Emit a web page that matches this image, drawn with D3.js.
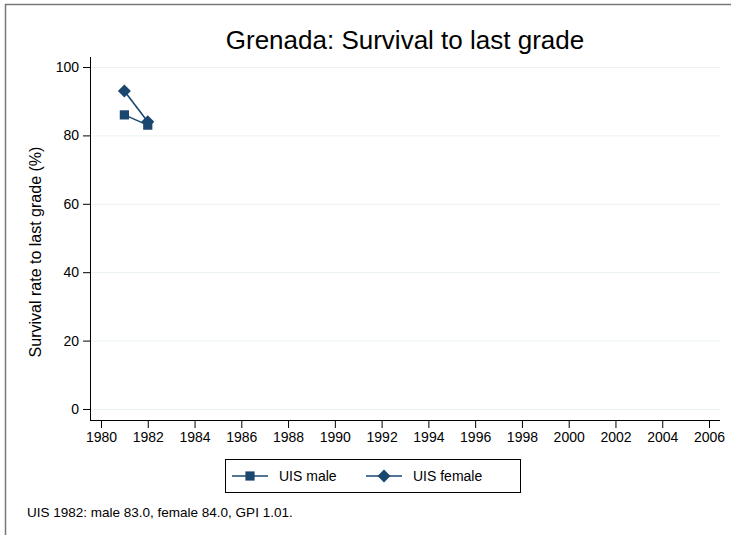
<!DOCTYPE html>
<html>
<head>
<meta charset="UTF-8">
<title>Grenada: Survival to last grade</title>
<script src="https://d3js.org/d3.v7.min.js"></script>
<style>
  html, body { margin: 0; padding: 0; background: #fff; overflow: hidden; }
  svg { display: block; }
  text { font-family: Arial, "Liberation Sans", sans-serif; fill: #000; }
</style>
</head>
<body>
<div id="chart"></div>
<script>
// data
var years = [1981, 1982];
var maleValues = [86, 83];
var femaleValues = [93, 84];
var xTicks = d3.range(1980, 2007, 2);
var yTicks = [0, 20, 40, 60, 80, 100];
var note = "UIS 1982: male 83.0, female 84.0, GPI 1.01.";

var W = 731, H = 535;
var navy = "#1a476f";
var fontFam = "Arial, 'Liberation Sans', sans-serif";

var svg = d3.select("#chart").append("svg")
    .attr("width", W).attr("height", H);

svg.append("rect").attr("width", W).attr("height", H).attr("fill", "#fff");

// outer frame (only top and left edges show in the picture)
svg.append("line").attr("x1", 5.5).attr("x2", 5.5).attr("y1", 4).attr("y2", H)
    .attr("stroke", "#777").attr("stroke-width", 1.5);
svg.append("line").attr("x1", 5).attr("x2", W).attr("y1", 4.5).attr("y2", 4.5)
    .attr("stroke", "#777").attr("stroke-width", 1.5);

var plot = {left: 90, right: 720, top: 57, bottom: 420};

var x = d3.scaleLinear().domain([1979.53, 2006.47]).range([plot.left, plot.right]);
var y = d3.scaleLinear().domain([0, 100]).range([409, 67]);

// grid lines
svg.append("g").selectAll("line").data(yTicks).join("line")
    .attr("x1", plot.left).attr("x2", plot.right)
    .attr("y1", d => y(d) + 0.5).attr("y2", d => y(d) + 0.5)
    .attr("stroke", "#eaf2f3").attr("stroke-width", 1);

// y axis
var yAxis = svg.append("g")
    .attr("transform", "translate(" + plot.left + ",0)")
    .call(d3.axisLeft(y).tickValues(yTicks).tickSize(7).tickPadding(4));
yAxis.select(".domain").attr("d", "M0.5," + plot.top + "V" + plot.bottom);
yAxis.selectAll("text").style("font-size", "14px").style("font-family", fontFam);

// x axis
var xAxis = svg.append("g")
    .attr("transform", "translate(0," + plot.bottom + ")")
    .call(d3.axisBottom(x).tickValues(xTicks).tickFormat(d3.format("d")).tickSize(8).tickPadding(4));
xAxis.select(".domain").attr("d", "M" + plot.left + ",0.5H" + plot.right);
xAxis.selectAll("text").style("font-size", "14px").style("font-family", fontFam);
svg.selectAll(".domain, .tick line").attr("stroke", "#000");

// series
var male = years.map((d, i) => ({year: d, v: maleValues[i]}));
var female = years.map((d, i) => ({year: d, v: femaleValues[i]}));
var line = d3.line().x(d => x(d.year)).y(d => y(d.v));

svg.append("path").datum(male).attr("d", line)
    .attr("fill", "none").attr("stroke", navy).attr("stroke-width", 1.6);
svg.append("path").datum(female).attr("d", line)
    .attr("fill", "none").attr("stroke", navy).attr("stroke-width", 1.6);

// square marker and a square diamond (rotated square)
var sq = d3.symbol().type(d3.symbolSquare).size(85)();
var dia = "M0,-6.5L6.5,0L0,6.5L-6.5,0Z";

svg.append("g").selectAll("path").data(male).join("path")
    .attr("d", sq)
    .attr("transform", d => "translate(" + x(d.year) + "," + y(d.v) + ")")
    .attr("fill", navy);
svg.append("g").selectAll("path").data(female).join("path")
    .attr("d", dia)
    .attr("transform", d => "translate(" + x(d.year) + "," + y(d.v) + ")")
    .attr("fill", navy);

// title
svg.append("text").attr("x", (plot.left + plot.right) / 2).attr("y", 49)
    .attr("text-anchor", "middle").style("font-size", "26px")
    .text("Grenada: Survival to last grade");

// y label
svg.append("text")
    .attr("transform", "translate(41,252) rotate(-90)")
    .attr("text-anchor", "middle").style("font-size", "16px")
    .text("Survival rate to last grade (%)");

// legend
var lg = svg.append("g");
lg.append("rect").attr("x", 225.5).attr("y", 459.5).attr("width", 295).attr("height", 33)
    .attr("fill", "#fff").attr("stroke", "#000").attr("stroke-width", 1);
var items = [{label: "UIS male", sym: sq, x0: 232}, {label: "UIS female", sym: dia, x0: 366}];
items.forEach(function(it) {
    lg.append("line").attr("x1", it.x0).attr("x2", it.x0 + 36).attr("y1", 476).attr("y2", 476)
        .attr("stroke", navy).attr("stroke-width", 1.6);
    lg.append("path").attr("d", it.sym).attr("transform", "translate(" + (it.x0 + 18) + ",476)")
        .attr("fill", navy);
    lg.append("text").attr("x", it.x0 + 47).attr("y", 481).style("font-size", "14px").text(it.label);
});

// footnote
svg.append("text").attr("x", 27).attr("y", 517).style("font-size", "13.5px").text(note);
</script>
</body>
</html>
